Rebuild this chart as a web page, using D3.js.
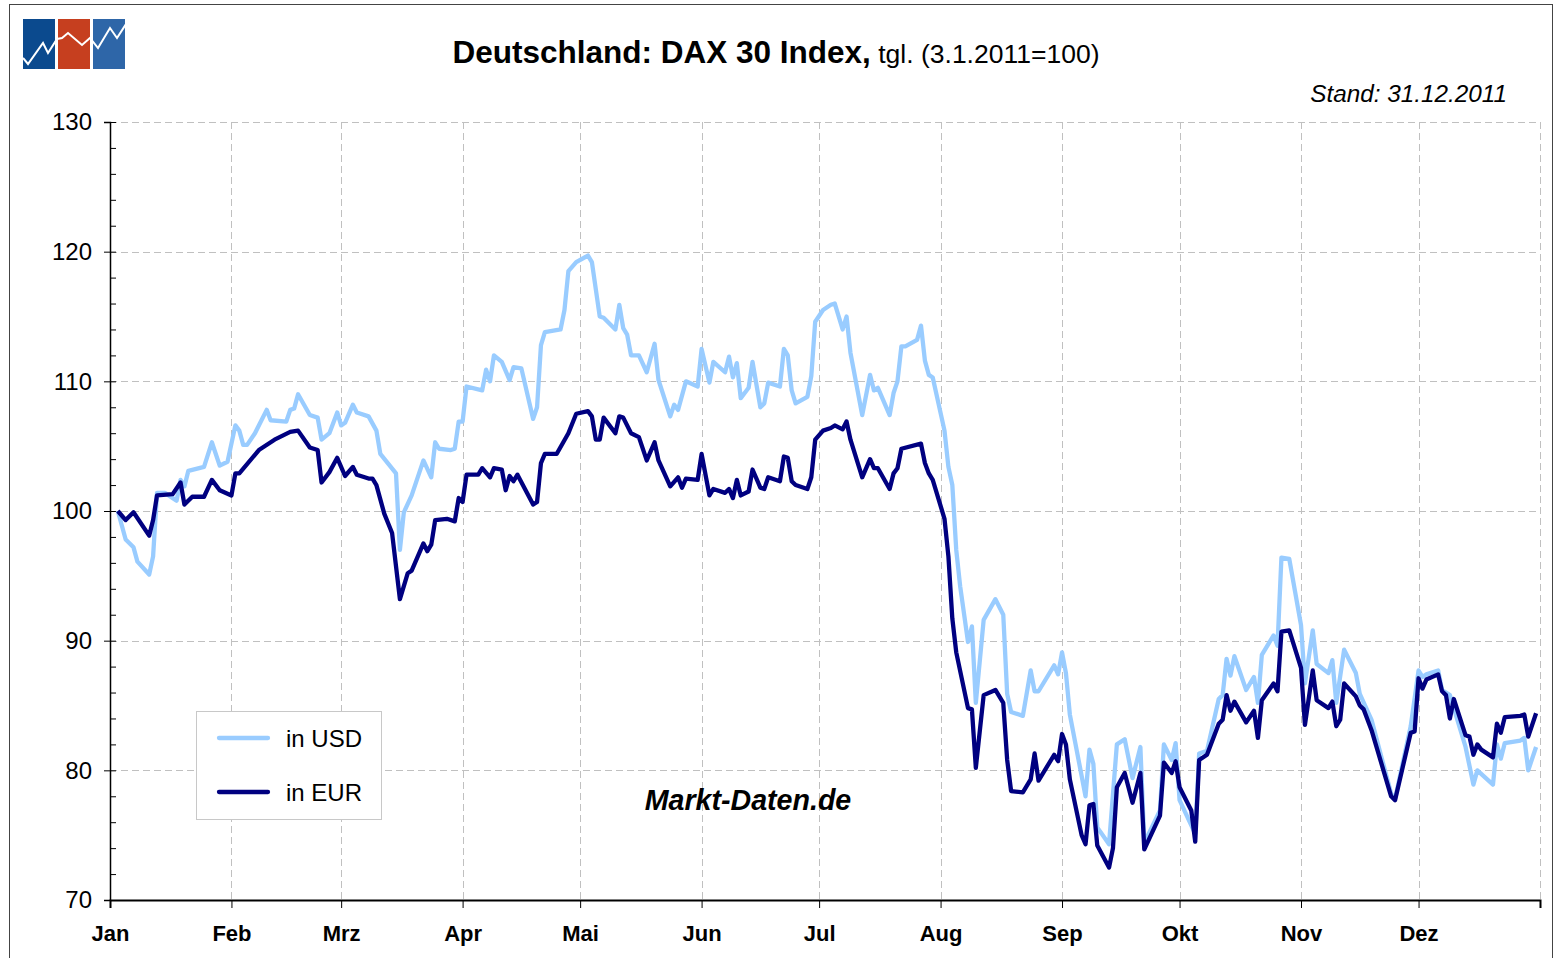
<!DOCTYPE html>
<html><head><meta charset="utf-8">
<script src="https://cdn.jsdelivr.net/npm/d3@7"></script>
<style>body{margin:0;background:#fff}svg{display:block}text{font-family:Arial,"Liberation Sans",sans-serif}</style>
</head><body>
<svg id="c" width="1562" height="958"></svg>
<script>
const monthLabels = ["Jan","Feb","Mrz","Apr","Mai","Jun","Jul","Aug","Sep","Okt","Nov","Dez"];
const yTicks = [70,80,90,100,110,120,130];

const eurDates = ["01-03","01-05","01-07","01-11","01-12","01-13","01-17","01-19","01-20","01-22","01-25","01-27","01-29","02-01","02-02","02-03","02-08","02-12","02-16","02-18","02-21","02-23","02-24","02-26","02-28","03-02","03-04","03-05","03-08","03-09","03-10","03-12","03-14","03-16","03-18","03-19","03-22","03-23","03-24","03-25","03-28","03-30","03-31","04-01","04-02","04-05","04-06","04-08","04-09","04-11","04-12","04-13","04-14","04-15","04-19","04-20","04-21","04-22","04-25","04-28","04-30","05-03","05-04","05-05","05-06","05-07","05-10","05-11","05-12","05-14","05-16","05-18","05-20","05-21","05-24","05-26","05-27","05-28","05-31","06-01","06-03","06-04","06-07","06-08","06-09","06-10","06-11","06-13","06-14","06-16","06-17","06-18","06-21","06-22","06-23","06-24","06-25","06-28","06-29","06-30","07-02","07-04","07-05","07-07","07-08","07-09","07-12","07-14","07-15","07-16","07-19","07-20","07-21","07-22","07-27","07-28","07-29","07-30","08-02","08-03","08-04","08-05","08-08","08-09","08-10","08-12","08-15","08-17","08-18","08-19","08-22","08-24","08-25","08-26","08-30","08-31","09-01","09-02","09-03","09-06","09-07","09-08","09-09","09-10","09-13","09-14","09-15","09-17","09-19","09-21","09-22","09-26","09-27","09-29","09-30","10-01","10-04","10-05","10-06","10-08","10-11","10-12","10-13","10-14","10-15","10-18","10-20","10-21","10-22","10-25","10-26","10-27","10-29","11-01","11-02","11-04","11-05","11-08","11-09","11-10","11-11","11-12","11-15","11-16","11-17","11-19","11-24","11-25","11-29","11-30","12-01","12-02","12-03","12-06","12-07","12-08","12-09","12-10","12-13","12-14","12-15","12-16","12-17","12-20","12-21","12-22","12-23","12-27","12-28","12-29","12-31"];
const eurValues = [100.0,99.3,99.9,98.1,99.3,101.2,101.3,102.2,100.5,101.1,101.1,102.4,101.6,101.2,102.9,102.9,104.7,105.5,106.1,106.2,104.9,104.7,102.2,103.0,104.1,102.7,103.4,102.8,102.5,102.5,102.0,99.8,98.3,93.2,95.2,95.4,97.5,96.9,97.4,99.3,99.4,99.2,101.0,100.7,102.8,102.8,103.3,102.6,103.3,103.2,101.6,102.7,102.3,102.8,100.5,100.7,103.7,104.4,104.4,106.0,107.5,107.7,107.3,105.5,105.5,107.2,106.0,107.3,107.2,106.0,105.7,103.9,105.3,103.9,101.9,102.6,101.8,102.5,102.4,104.4,101.2,101.7,101.4,101.7,101.0,102.4,101.2,101.5,103.2,101.8,101.7,102.6,102.3,104.2,104.1,102.3,102.0,101.7,102.6,105.5,106.2,106.4,106.6,106.3,106.9,105.5,102.6,104.0,103.3,103.3,101.7,102.9,103.3,104.8,105.2,103.7,102.9,102.4,99.4,96.5,91.7,89.1,84.8,84.7,80.2,85.8,86.2,85.2,80.8,78.4,78.3,79.3,81.3,79.2,81.2,80.7,82.8,82.0,79.3,75.0,74.3,77.3,77.4,74.2,72.5,74.0,78.7,79.8,77.5,79.8,73.9,76.5,80.6,79.8,80.7,78.7,76.9,74.5,80.8,81.2,83.6,83.9,85.8,84.6,85.3,83.7,84.6,82.5,85.4,86.7,86.1,90.7,90.8,87.9,83.5,87.7,85.4,84.8,85.3,83.4,83.9,86.7,85.7,85.0,84.7,83.1,78.0,77.7,82.9,83.0,87.1,86.3,87.0,87.4,86.1,85.8,84.0,85.5,82.7,82.6,81.2,82.0,81.6,81.0,83.6,82.9,84.1,84.2,84.3,82.6,84.4];

const usdDates = ["01-03","01-05","01-07","01-08","01-11","01-12","01-13","01-15","01-18","01-19","01-20","01-21","01-25","01-27","01-29","01-31","02-02","02-03","02-04","02-05","02-07","02-10","02-11","02-15","02-16","02-17","02-18","02-21","02-23","02-24","02-26","02-28","03-01","03-02","03-04","03-05","03-08","03-10","03-11","03-15","03-16","03-17","03-19","03-22","03-24","03-25","03-26","03-29","03-30","03-31","04-01","04-02","04-06","04-07","04-08","04-09","04-11","04-13","04-14","04-16","04-19","04-20","04-21","04-22","04-26","04-27","04-28","04-30","05-03","05-04","05-06","05-07","05-10","05-11","05-12","05-13","05-14","05-16","05-18","05-20","05-21","05-24","05-25","05-26","05-28","05-31","06-01","06-03","06-04","06-07","06-08","06-09","06-10","06-11","06-13","06-14","06-16","06-17","06-18","06-21","06-22","06-23","06-24","06-25","06-28","06-29","06-30","07-02","07-04","07-05","07-07","07-08","07-09","07-12","07-14","07-15","07-16","07-19","07-20","07-21","07-22","07-23","07-26","07-27","07-28","07-29","07-30","08-02","08-03","08-04","08-05","08-06","08-08","08-09","08-10","08-12","08-15","08-17","08-18","08-19","08-22","08-24","08-25","08-26","08-30","08-31","09-01","09-02","09-03","09-07","09-08","09-09","09-10","09-13","09-15","09-17","09-19","09-21","09-22","09-26","09-27","09-29","09-30","10-01","10-05","10-06","10-08","10-11","10-12","10-13","10-14","10-15","10-18","10-20","10-21","10-22","10-25","10-26","10-27","10-29","11-01","11-02","11-04","11-05","11-08","11-09","11-10","11-12","11-15","11-16","11-19","11-24","11-25","11-29","12-01","12-02","12-03","12-06","12-07","12-09","12-13","12-15","12-16","12-20","12-21","12-22","12-23","12-27","12-28","12-29","12-31"];
const usdValues = [100.0,97.8,97.2,96.1,95.1,96.5,101.4,101.4,100.8,102.4,101.9,103.1,103.4,105.3,103.5,103.8,106.6,106.2,105.1,105.1,106.0,107.8,107.0,106.9,107.8,107.9,109.0,107.4,107.2,105.5,106.0,107.6,106.6,106.8,108.2,107.6,107.3,106.2,104.4,102.9,97.0,99.9,101.2,103.9,102.6,105.3,104.8,104.7,104.8,106.9,106.9,109.6,109.3,110.9,110.0,112.0,111.5,110.1,111.1,111.0,107.1,108.0,112.8,113.8,114.0,115.5,118.5,119.2,119.7,119.2,115.0,114.9,114.0,115.9,114.1,113.6,112.0,112.0,110.7,112.9,110.1,107.3,108.2,107.8,110.0,109.6,112.5,109.9,111.5,110.7,111.9,110.3,111.4,108.7,109.5,111.5,108.0,108.3,109.9,109.6,112.5,112.0,109.3,108.3,108.8,110.4,114.6,115.5,115.9,116.0,114.0,115.0,112.2,107.4,110.5,109.3,109.5,107.4,109.1,110.0,112.7,112.7,113.2,114.3,111.6,110.5,110.3,106.2,103.4,102.0,97.0,94.2,89.9,91.1,85.2,91.6,93.2,92.0,85.9,84.5,84.2,87.7,86.1,86.1,88.1,87.4,89.1,87.5,84.3,78.0,81.6,80.5,75.6,74.3,82.0,82.4,79.4,81.8,74.4,76.9,82.0,80.8,82.1,77.7,75.1,81.3,81.5,85.5,85.8,88.6,87.3,88.8,86.2,87.2,85.2,88.9,90.4,89.6,96.4,96.3,91.2,86.7,90.8,88.2,87.5,88.5,85.2,89.3,87.5,85.9,83.9,78.2,77.8,83.4,87.7,87.2,87.4,87.7,86.2,85.8,81.8,78.9,80.0,78.9,82.0,80.9,82.1,82.3,82.5,80.0,81.8];

const parse = d3.utcParse("%Y-%m-%d");
const toSeries = (dates, vals) => dates.map((d,i)=>({date:parse("2011-"+d), v:vals[i]}));
const usd = toSeries(usdDates, usdValues);
const eur = toSeries(eurDates, eurValues);

const svg = d3.select("#c");
const x = d3.scaleUtc().domain([parse("2011-01-01"), parse("2012-01-01")]).range([110,1540]);
const y = d3.scaleLinear().domain([70,130]).range([900,122]);
const monthStarts = d3.utcMonth.range(parse("2011-01-01"), parse("2012-01-02"));

// outer frame
svg.append("rect").attr("x",9.5).attr("y",4.5).attr("width",1543).attr("height",1000)
  .attr("fill","none").attr("stroke","#444").attr("stroke-width",1);

// logo
const logo = svg.append("g");
[["#0b4a8e",23],["#c63f1f",58],["#2e66a8",93]].forEach(([c,lx])=>{
  logo.append("rect").attr("x",lx).attr("y",19).attr("width",32).attr("height",50).attr("fill",c);
});
logo.append("clipPath").attr("id","lc").append("rect").attr("x",23).attr("y",19).attr("width",102).attr("height",50);
logo.append("polyline").attr("clip-path","url(#lc)")
  .attr("points","23,58 28,64 43,43 48,53 57,39 62,38 68,33 82,45 90,38 98,48 110,28 117,38 126,24")
  .attr("fill","none").attr("stroke","#fff").attr("stroke-width",2);

// title
const t = svg.append("text").attr("x",776).attr("y",63).attr("text-anchor","middle");
t.append("tspan").attr("font-weight","bold").attr("font-size",31.5).text("Deutschland: DAX 30 Index,");
t.append("tspan").attr("font-size",26.5).text(" tgl. (3.1.2011=100)");
svg.append("text").attr("x",1507).attr("y",102).attr("text-anchor","end")
  .attr("font-style","italic").attr("font-size",24.3).text("Stand: 31.12.2011");

// gridlines
const grid = svg.append("g").attr("stroke","#c0c0c0").attr("stroke-width",1).attr("stroke-dasharray","7,4");
grid.selectAll("line.h").data(yTicks.filter(v=>v>70)).join("line")
  .attr("x1",110).attr("x2",1540).attr("y1",d=>Math.round(y(d))+0.5).attr("y2",d=>Math.round(y(d))+0.5);
grid.selectAll("line.v").data(monthStarts.slice(1)).join("line")
  .attr("x1",d=>Math.round(x(d))+0.5).attr("x2",d=>Math.round(x(d))+0.5).attr("y1",122).attr("y2",900);

// axes
const yAx = svg.append("g").attr("transform","translate(110,0)")
  .call(d3.axisLeft(y).tickValues(yTicks).tickSize(6).tickPadding(12));
yAx.select(".domain").attr("stroke","#000").attr("stroke-width",1.5);
yAx.selectAll(".tick line").attr("x1",-6).attr("x2",6).attr("stroke","#000");
yAx.selectAll(".tick text").attr("font-size",24).attr("font-family","Arial, 'Liberation Sans', sans-serif").attr("fill","#000");
const minor = d3.range(72,130,2).filter(v=>v%10!==0);
const yMin = svg.append("g").attr("transform","translate(110,0)")
  .call(d3.axisRight(y).tickValues(minor).tickSize(6).tickFormat(""));
yMin.select(".domain").remove();
yMin.selectAll(".tick line").attr("stroke","#000");

const xAx = svg.append("g").attr("transform","translate(0,900)")
  .call(d3.axisBottom(x).tickValues(monthStarts).tickSize(8).tickFormat((d,i)=>monthLabels[i]||""));
xAx.select(".domain").attr("stroke","#000").attr("stroke-width",2);
xAx.selectAll(".tick line").attr("stroke","#000");
xAx.selectAll(".tick text").attr("y",41).attr("dy",0).attr("font-size",22).attr("font-weight","bold")
  .attr("font-family","Arial, 'Liberation Sans', sans-serif").attr("fill","#000");

// lines
const line = d3.line().x(d=>x(d.date)).y(d=>y(d.v));
svg.append("path").datum(usd).attr("d",line).attr("fill","none").attr("stroke","#99ccff")
  .attr("stroke-width",4.3).attr("stroke-linejoin","round");
svg.append("path").datum(eur).attr("d",line).attr("fill","none").attr("stroke","#000080")
  .attr("stroke-width",4.3).attr("stroke-linejoin","round");

// legend
const lg = svg.append("g");
lg.append("rect").attr("x",196.5).attr("y",711.5).attr("width",185).attr("height",108)
  .attr("fill","#fff").attr("stroke","#c8c8c8");
[["in USD","#99ccff",738],["in EUR","#000080",792]].forEach(([lbl,c,ly])=>{
  lg.append("line").attr("x1",219).attr("x2",268).attr("y1",ly).attr("y2",ly)
    .attr("stroke",c).attr("stroke-width",4.3).attr("stroke-linecap","round");
  lg.append("text").attr("x",286).attr("y",ly+9).attr("font-size",24).text(lbl);
});

// watermark
svg.append("text").attr("x",748).attr("y",810).attr("text-anchor","middle")
  .attr("font-weight","bold").attr("font-style","italic").attr("font-size",28.6).text("Markt-Daten.de");
</script>
</body></html>
